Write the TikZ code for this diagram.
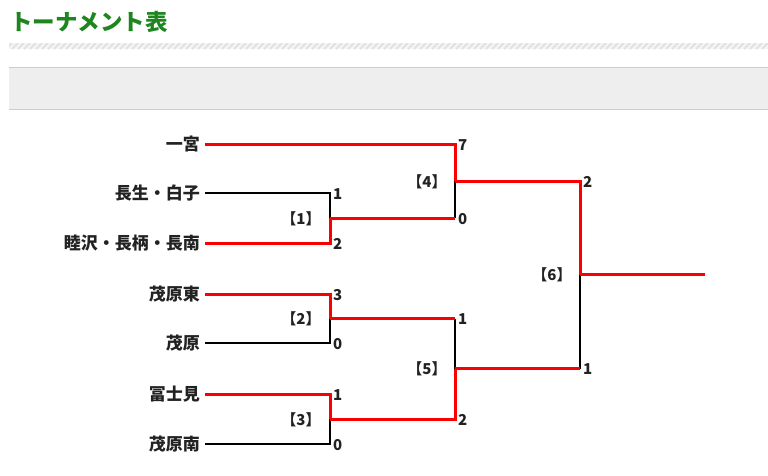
\documentclass[tikz,border=0pt]{standalone}
\usepackage{fontspec}
\setmainfont{Noto Sans CJK JP}
\definecolor{titlegreen}{RGB}{30,134,30}
\definecolor{winred}{RGB}{250,0,0}
\definecolor{boxgray}{RGB}{238,238,238}
\definecolor{boxline}{RGB}{204,204,204}
\definecolor{stripe}{RGB}{226,226,226}
\definecolor{txt}{RGB}{34,34,34}
\tikzset{
  team/.style={anchor=east, inner xsep=5pt, inner ysep=0pt, text height=14.5pt, text depth=2pt, font=\fontsize{17}{19}\selectfont\bfseries, text=txt},
  score/.style={anchor=west, inner xsep=3pt, inner ysep=0pt, text height=14pt, text depth=2pt, font=\fontsize{15}{18}\selectfont\bfseries, text=txt},
  match/.style={inner sep=0pt, text height=14pt, text depth=2pt, font=\fontsize{15}{18}\selectfont\bfseries, text=txt},
  lose/.style={draw=black, line width=2pt},
  win/.style={draw=winred, line width=3pt}
}
\begin{document}
\begin{tikzpicture}[x=1pt,y=-1pt]
\useasboundingbox (0,0) rectangle (768,475);
% title
\node[anchor=west, inner sep=0pt, text=titlegreen, font=\fontsize{22.5}{24}\selectfont\bfseries] (title) at (10,22) {トーナメント表};
% hatched stripe
\fill[white!96!black] (9,43) rectangle (768,49);
\begin{scope}
\clip (9,43) rectangle (768,49);
\foreach \i in {0,6,...,780} {
  \draw[stripe, line width=2pt] (\i,49) -- (\i+6,43);
}
\end{scope}
% gray box
\fill[boxgray] (9,67) rectangle (768,109);
\draw[boxline, line width=1pt] (9,67) -- (768,67) (9,109) -- (768,109);

% teams
\node[team] (t1) at (205,144) {一宮};
\node[team] (t2) at (205,193) {長生・白子};
\node[team] (t3) at (205,243) {睦沢・長柄・長南};
\node[team] (t4) at (205,294) {茂原東};
\node[team] (t5) at (205,343) {茂原};
\node[team] (t6) at (205,394) {冨士見};
\node[team] (t7) at (205,444) {茂原南};

% corners
\coordinate (c1) at (455,144);
\coordinate (c2) at (330,193);
\coordinate (c3) at (330,243);
\coordinate (c4) at (330,294);
\coordinate (c5) at (330,343);
\coordinate (c6) at (330,394);
\coordinate (c7) at (330,444);
\coordinate (j1) at (330,218);
\coordinate (j2) at (330,318.5);
\coordinate (j3) at (330,419);
\coordinate (d1) at (455,218);
\coordinate (d2) at (455,318.5);
\coordinate (d3) at (455,419);
\coordinate (j4) at (455,181);
\coordinate (j5) at (455,368.5);
\coordinate (e1) at (580,181);
\coordinate (e2) at (580,368.5);
\coordinate (j6) at (580,274.5);
\coordinate (fin) at (705,274.5);

% losing lines
\draw[lose] (t2.east) -- (c2) -- (j1);
\draw[lose] (t5.east) -- (c5) -- (j2);
\draw[lose] (t7.east) -- (c7) -- (j3);
\draw[lose] (d1) -- (j4);
\draw[lose] (d2) -- (j5);
\draw[lose] (e2) -- (j6);
% winning lines
\draw[win] (t1.east) -- (c1) -- (j4);
\draw[win] (t3.east) -- (c3) -- (j1);
\draw[win] (t4.east) -- (c4) -- (j2);
\draw[win] (t6.east) -- (c6) -- (j3);
\draw[win] (j1) -- (d1);
\draw[win] (j2) -- (d2);
\draw[win] (j3) -- (d3) -- (j5);
\draw[win] (j4) -- (e1) -- (j6);
\draw[win] (j5) -- (e2);
\draw[win] (j6) -- (fin);

% scores
\node[score] (s1) at (c1) {7};
\node[score] (s2) at (d1) {0};
\node[score] (s3) at (c2) {1};
\node[score] (s4) at (c3) {2};
\node[score] (s5) at (c4) {3};
\node[score] (s6) at (c5) {0};
\node[score] (s7) at (c6) {1};
\node[score] (s8) at (c7) {0};
\node[score] (s9) at (d2) {1};
\node[score] (s10) at (d3) {2};
\node[score] (s11) at (e1) {2};
\node[score] (s12) at (e2) {1};

% match labels
\node[match] (m1) at (301,218) {【1】};
\node[match] (m2) at (301,318.5) {【2】};
\node[match] (m3) at (301,419) {【3】};
\node[match] (m4) at (427,181) {【4】};
\node[match] (m5) at (427,368.5) {【5】};
\node[match] (m6) at (552,274.5) {【6】};
\end{tikzpicture}
\end{document}
